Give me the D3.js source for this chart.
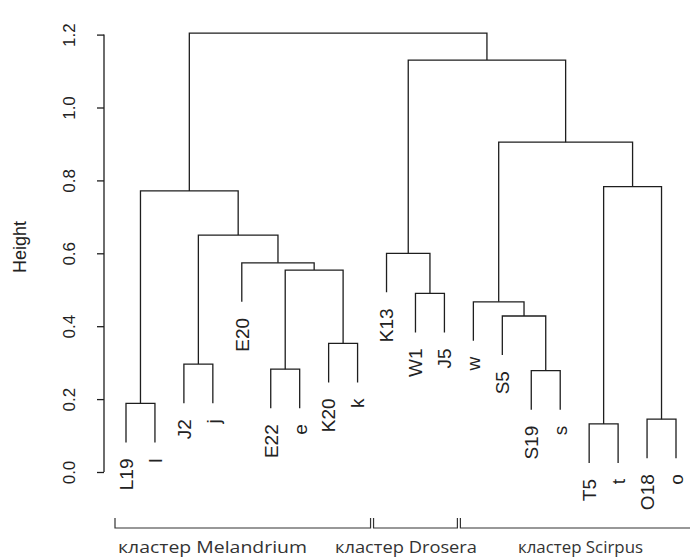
<!DOCTYPE html>
<html>
<head>
<meta charset="utf-8">
<script src="https://cdn.jsdelivr.net/npm/d3@7"></script>
<style>
  body { margin: 0; background: #fff; }
  svg { display: block; }
  .axis text, .leaf, .ylab { font-family: "Liberation Sans", Arial, sans-serif; fill: #222; }
  .clab { font-family: "Open Sans", sans-serif; fill: #333; }
</style>
</head>
<body>
<div id="chart"></div>
<script>
// leaves in dendrogram order
var leafLabels = ["L19", "l", "J2", "j", "E20", "E22", "e", "K20", "k", "K13",
                  "W1", "J5", "w", "S5", "S19", "s", "T5", "t", "O18", "o"];

// merges like R's hclust: strings are leaves, numbers point to earlier merges (1-based)
var mergePairs = [
  ["T5", "t"], ["O18", "o"], ["L19", "l"], ["S19", "s"], ["E22", "e"],
  ["J2", "j"], ["K20", "k"], ["S5", 4], ["w", 8], ["W1", "J5"],
  [5, 7], ["E20", 11], ["K13", 10], [6, 12], [3, 14],
  [1, 2], [9, 16], [13, 17], [15, 18]
];
var mergeHeights = [0.132, 0.145, 0.188, 0.278, 0.282, 0.296, 0.353, 0.428, 0.467, 0.490,
                    0.554, 0.574, 0.600, 0.650, 0.771, 0.783, 0.905, 1.130, 1.204];

var yTicks = [0, 0.2, 0.4, 0.6, 0.8, 1.0, 1.2];

var clusterNames = ["кластер Melandrium", "кластер Drosera", "кластер Scirpus"];
var clusterFirst = ["L19", "K13", "w"];
var clusterLast = ["k", "J5", "o"];

var w = 690;
var h = 559;

var svg = d3.select("#chart")
  .append("svg")
    .attr("width", w)
    .attr("height", h);

var x = d3.scalePoint()
  .domain(leafLabels)
  .range([126, 676]);

var y = d3.scaleLinear()
  .domain([0, 1.2])
  .range([472, 34.6]);

// hang like R: 10% of the height range
var hang = 0.1 * (d3.max(mergeHeights) - d3.min(mergeHeights));

var nodeX = [];
var lineCol = "#1e1e1e";

var links = svg.append("g")
  .attr("fill", "none")
  .attr("stroke", lineCol)
  .attr("stroke-width", 1.3);

var leafEnds = {};

mergePairs.forEach(function (pair, i) {
  var hgt = mergeHeights[i];
  var pts = pair.map(function (c) {
    if (typeof c === "string") {
      leafEnds[c] = hgt - hang;
      return { x: x(c), top: hgt - hang };
    }
    return { x: nodeX[c - 1], top: mergeHeights[c - 1] };
  });
  nodeX[i] = (pts[0].x + pts[1].x) / 2;
  var p = d3.path();
  p.moveTo(pts[0].x, y(pts[0].top));
  p.lineTo(pts[0].x, y(hgt));
  p.lineTo(pts[1].x, y(hgt));
  p.lineTo(pts[1].x, y(pts[1].top));
  links.append("path").attr("d", p.toString());
});

// leaf labels, rotated
svg.append("g")
  .selectAll("text")
  .data(leafLabels)
  .join("text")
    .attr("class", "leaf")
    .attr("transform", function (d) {
      return "translate(" + x(d) + "," + (y(leafEnds[d]) + 16) + ") rotate(-90)";
    })
    .attr("text-anchor", "end")
    .attr("dy", "0.36em")
    .style("font-size", "19px")
    .text(function (d) { return d; });

// y axis
var yAxis = d3.axisLeft(y)
  .tickValues(yTicks)
  .tickFormat(d3.format(".1f"))
  .tickSize(7)
  .tickSizeOuter(0);

var ax = svg.append("g")
  .attr("class", "axis")
  .attr("transform", "translate(104,0)")
  .call(yAxis);

ax.select(".domain").attr("stroke", lineCol).attr("stroke-width", 1.3)
  .attr("d", "M0," + y(0) + "V" + y(1.2));
ax.selectAll(".tick line").attr("stroke", lineCol).attr("stroke-width", 1.3);
ax.selectAll(".tick text")
  .attr("x", null).attr("dy", null)
  .attr("transform", "translate(-29,0) rotate(-90)")
  .attr("text-anchor", "middle")
  .style("font-size", "17px")
  .attr("fill", "#222");

svg.append("text")
  .attr("class", "ylab")
  .attr("transform", "translate(26,247) rotate(-90)")
  .attr("text-anchor", "middle")
  .style("font-size", "18px")
  .text("Height");

// cluster brackets under the leaves
var step = x.step();
var bracketY = 528;
var textX = [118, 335, 518];
var textW = [189, 142, 125];

clusterNames.forEach(function (name, i) {
  var x0 = i === 0 ? x(clusterFirst[i]) - 11 : x(clusterFirst[i]) - step / 2 + 1.5;
  var x1 = i === clusterNames.length - 1 ? w + 10 : x(clusterLast[i]) + step / 2 - 1.5;
  svg.append("path")
    .attr("d", "M" + x0 + "," + (bracketY - 10) + "V" + bracketY + "H" + x1 + "V" + (bracketY - 10))
    .attr("fill", "none")
    .attr("stroke", "#333")
    .attr("stroke-width", 1.2);
  svg.append("text")
    .attr("class", "clab")
    .attr("x", textX[i])
    .attr("y", 553)
    .attr("textLength", textW[i])
    .attr("lengthAdjust", "spacingAndGlyphs")
    .style("font-size", "16.5px")
    .text(name);
});
</script>
</body>
</html>
